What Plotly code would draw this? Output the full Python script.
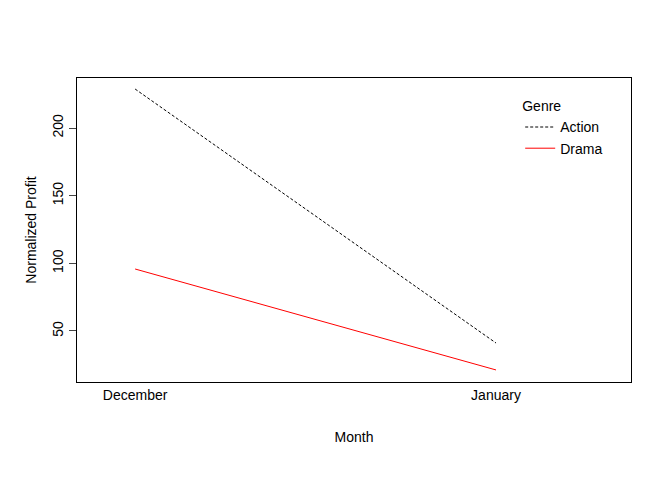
import plotly.graph_objects as go

months = ['December', 'January']
action = [228.8, 41.1]
drama = [95.8, 21.2]

fig = go.Figure()
fig.add_trace(go.Scatter(x=[1, 2], y=action, mode='lines', name='Action',
                         line=dict(color='black', width=1, dash='3px,2px')))
fig.add_trace(go.Scatter(x=[1, 2], y=drama, mode='lines', name='Drama',
                         line=dict(color='red', width=1)))

fig.update_layout(
    width=672, height=480,
    paper_bgcolor='white', plot_bgcolor='white',
    font=dict(family='Liberation Sans, Arial', size=14, color='black'),
    margin=dict(l=69, r=49, t=70, b=106),
    showlegend=True,
    legend=dict(title=dict(text='Genre', side='top', font=dict(size=14)),
                x=0.8, y=0.95, xanchor='left', yanchor='top',
                bgcolor='rgba(0,0,0,0)', font=dict(size=14)),
    xaxis=dict(range=[0.839, 2.374], tickvals=[1, 2], ticktext=months,
               showgrid=False, zeroline=False, showline=True, mirror=True,
               linecolor='black', linewidth=1, ticks='', ticklen=0,
               tickfont=dict(size=14),
               title=dict(text='Month', standoff=30, font=dict(size=14))),
    yaxis=dict(range=[12.3, 236.95], tickvals=[50, 100, 150, 200],
               showgrid=False, zeroline=False, showline=True, mirror=True,
               linecolor='black', linewidth=1, ticks='outside', ticklen=7,
               tickangle=-90, tickfont=dict(size=14),
               title=dict(text='Normalized Profit', standoff=10, font=dict(size=14))),
)

fig.write_html("out.html")
